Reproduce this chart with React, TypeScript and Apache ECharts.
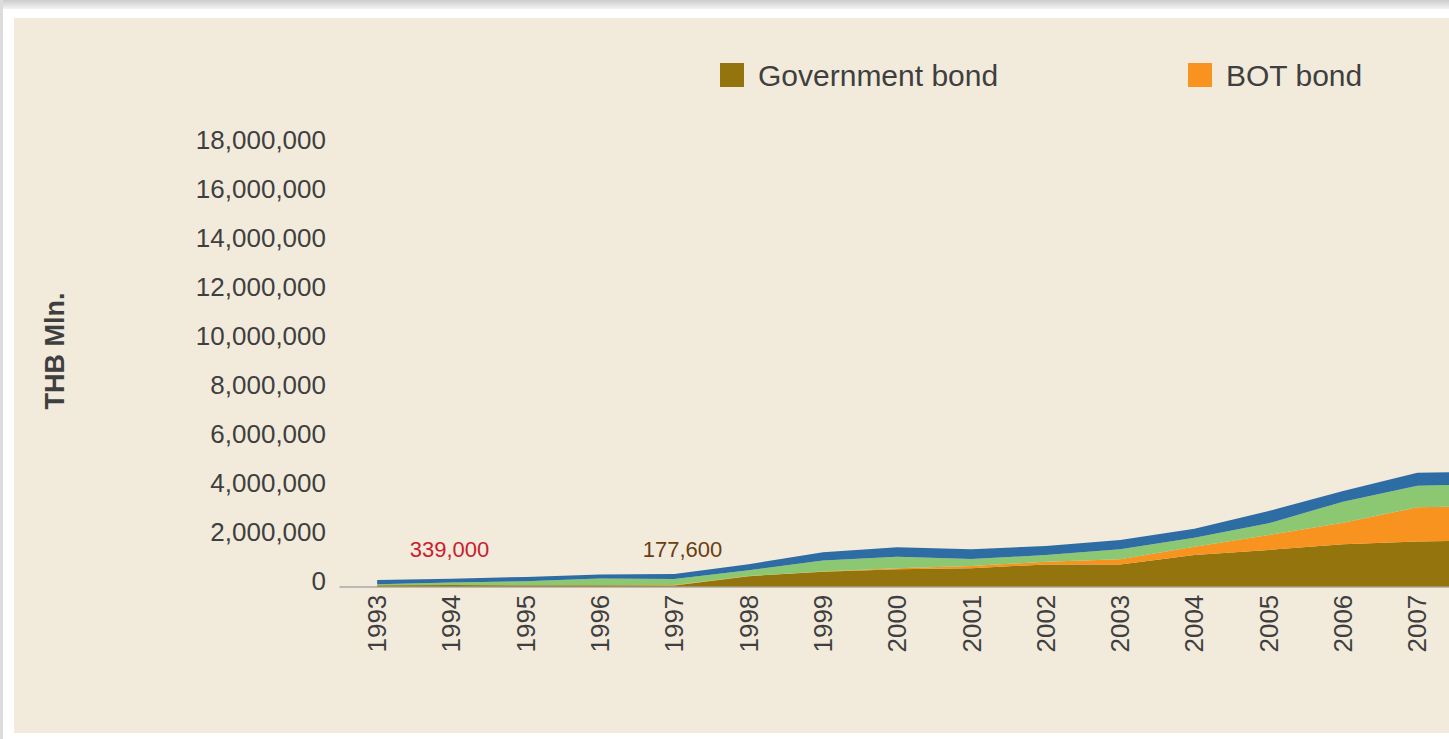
import React, { useEffect, useRef } from "react";
import * as echarts from "echarts";

const years = ["1993", "1994", "1995", "1996", "1997", "1998", "1999", "2000", "2001", "2002", "2003", "2004", "2005", "2006", "2007", "2008"];
const governmentBond = [60000, 70000, 60000, 60000, 50000, 430000, 610000, 710000, 750000, 910000, 910000, 1290000, 1500000, 1730000, 1840000, 1910000];
const botBond = [0, 0, 0, 0, 20000, 10000, 10000, 40000, 90000, 110000, 210000, 340000, 610000, 880000, 1400000, 1390000];
const stateEnterpriseBond = [40000, 100000, 160000, 270000, 240000, 230000, 450000, 470000, 290000, 270000, 410000, 370000, 480000, 860000, 880000, 900000];
const corporateBond = [170000, 150000, 180000, 170000, 210000, 250000, 340000, 390000, 400000, 370000, 380000, 370000, 500000, 440000, 530000, 500000];

const seriesNames = ["Government bond", "BOT bond", "State enterprise bond", "Corporate bond"];
const seriesColors = ["#94740d", "#f7931e", "#8cc872", "#2e6ca4"];
const annotations = [
  { text: "339,000", x: 449.5, y: 549, color: "#c8202f" },
  { text: "177,600", x: 682.5, y: 549, color: "#6b3d12" },
];

const FONT = '"Liberation Sans", Arial, Helvetica, sans-serif';
const CHART_WIDTH = 1560;
const VISIBLE_LABELS = 15;

export default function App() {
  const ref = useRef<HTMLDivElement>(null);

  useEffect(() => {
    if (!ref.current) return;
    const chart = echarts.init(ref.current, null, { renderer: "svg" });
    const data = [governmentBond, botBond, stateEnterpriseBond, corporateBond];
    const legendBase = {
      top: 60,
      padding: 0,
      icon: "rect",
      itemWidth: 24,
      itemHeight: 24,
      selectedMode: false,
      textStyle: { fontSize: 30, color: "#3f3f3f", fontFamily: FONT, padding: [0, 0, 8, 9] },
    };
    chart.setOption({
      animation: false,
      textStyle: { fontFamily: FONT },
      grid: { left: 340, right: CHART_WIDTH - 1528.8, top: 145.7, bottom: 152.3, containLabel: false },
      legend: [
        { ...legendBase, data: [seriesNames[0]], left: 720 },
        { ...legendBase, data: [seriesNames[1]], left: 1188 },
      ],
      xAxis: {
        type: "category",
        data: years,
        boundaryGap: true,
        axisLine: { show: true, lineStyle: { color: "#a9a9a9", width: 1.5 } },
        axisTick: { show: false },
        axisLabel: {
          rotate: 90,
          fontSize: 26,
          color: "#3f3f3f",
          margin: 8,
          fontFamily: FONT,
          interval: (i: number) => i < VISIBLE_LABELS,
        },
        splitLine: { show: false },
      },
      yAxis: {
        type: "value",
        min: 0,
        max: 18000000,
        interval: 2000000,
        axisLine: { show: false },
        axisTick: { show: false },
        splitLine: { show: false },
        axisLabel: {
          fontSize: 26,
          color: "#3f3f3f",
          margin: 14,
          fontFamily: FONT,
          verticalAlign: "bottom",
          lineHeight: 12,
          formatter: (v: number) => v.toLocaleString("en-US"),
        },
      },
      graphic: [
        {
          type: "text",
          x: 55,
          y: 351,
          rotation: Math.PI / 2,
          style: {
            text: "THB Mln.",
            fill: "#3f3f3f",
            font: `bold 27px ${FONT}`,
            textAlign: "center",
            textVerticalAlign: "middle",
          },
        },
        ...annotations.map((a) => ({
          type: "text",
          x: a.x,
          y: a.y,
          style: {
            text: a.text,
            fill: a.color,
            font: `22px ${FONT}`,
            textAlign: "center",
            textVerticalAlign: "middle",
          },
        })),
      ],
      series: seriesNames.map((name, i) => ({
        name,
        type: "line",
        stack: "total",
        data: data[i],
        symbol: "none",
        lineStyle: { width: 0 },
        areaStyle: { color: seriesColors[i], opacity: 1 },
        itemStyle: { color: seriesColors[i] },
        emphasis: { disabled: true },
      })),
    });
    return () => chart.dispose();
  }, []);

  return (
    <div style={{ position: "fixed", left: 0, top: 0, width: 1449, height: 739, overflow: "hidden", background: "#ffffff" }}>
      <div style={{ position: "absolute", left: 0, top: 0, width: 1449, height: 9, background: "linear-gradient(#cbcbcb, #f4f4f4)" }} />
      <div style={{ position: "absolute", left: 0, top: 0, width: 3, height: 739, background: "#dcdcdc" }} />
      <div style={{ position: "absolute", left: 14, top: 18, width: 1435, height: 715, background: "#f2ebdc" }} />
      <div ref={ref} style={{ position: "absolute", left: 0, top: 0, width: CHART_WIDTH, height: 739 }} />
    </div>
  );
}
